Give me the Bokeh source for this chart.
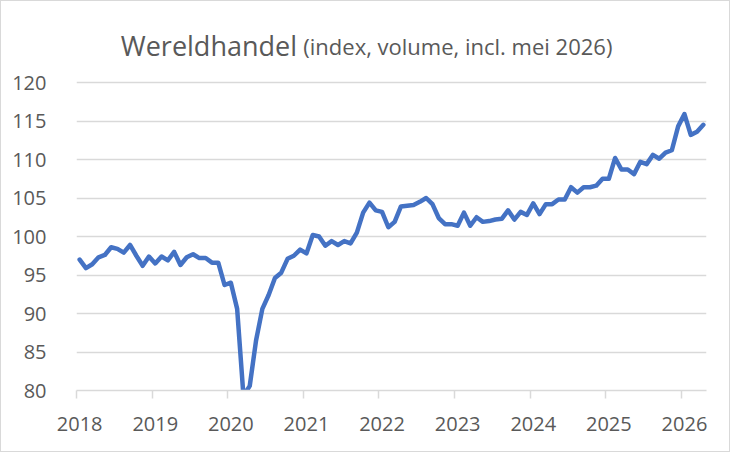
from bokeh.plotting import figure
from bokeh.models import Range1d, FixedTicker
from bokeh.layouts import column
from bokeh.core.properties import value
from bokeh.embed import file_html
from bokeh.resources import INLINE

# Monthly world trade index (volume), Jan 2018 .. Apr 2026 as plotted
values = [
    97.0, 95.9, 96.4, 97.3, 97.6, 98.6, 98.4, 97.9, 98.9, 97.5, 96.2, 97.4,   # 2018
    96.5, 97.4, 96.9, 98.0, 96.3, 97.3, 97.7, 97.2, 97.2, 96.6, 96.6, 93.7,   # 2019
    94.0, 90.6, 79.3, 80.6, 86.5, 90.6, 92.4, 94.6, 95.3, 97.1, 97.5, 98.3,   # 2020
    97.8, 100.2, 100.0, 98.8, 99.4, 98.9, 99.4, 99.1, 100.5, 103.1, 104.4, 103.4,  # 2021
    103.2, 101.2, 101.9, 103.9, 104.0, 104.1, 104.5, 105.0, 104.2, 102.4, 101.6, 101.6,  # 2022
    101.4, 103.1, 101.4, 102.5, 101.9, 102.0, 102.2, 102.3, 103.4, 102.2, 103.2, 102.8,  # 2023
    104.3, 102.9, 104.2, 104.2, 104.8, 104.8, 106.4, 105.7, 106.4, 106.4, 106.6, 107.5,  # 2024
    107.5, 110.2, 108.7, 108.7, 108.1, 109.7, 109.4, 110.6, 110.1, 110.9, 111.2, 114.3,  # 2025
    115.9, 113.2, 113.6, 114.5,                                                      # 2026
]
year_labels = ["2018", "2019", "2020", "2021", "2022", "2023", "2024", "2025", "2026"]
y_ticks = [80, 85, 90, 95, 100, 105, 110, 115, 120]
title_main = "Wereldhandel"
title_sub = "(index, volume, incl. mei 2026)"

months = list(range(len(values)))
label_pos = [12 * k for k in range(len(year_labels))]
boundary_pos = [12 * k - 0.5 for k in range(len(year_labels))]

GREY_TEXT = "#595959"
GRID = "#d9d9d9"
FONT = "Open Sans"

# frame runs from the very top of the chart down to the x axis; the headroom
# above 120 holds the title (no ticks / gridlines there)
PX_PER_UNIT = 7.7
FRAME_H = 389
y_top = y_ticks[0] + FRAME_H / PX_PER_UNIT

p = figure(width=728, height=450, output_backend="svg", toolbar_location=None,
           x_range=Range1d(-0.5, len(values) - 0.5), y_range=Range1d(y_ticks[0], y_top),
           min_border_left=75, min_border_right=23, min_border_top=0, min_border_bottom=61)
p.outline_line_color = None
p.background_fill_color = "white"
p.border_fill_color = "white"

p.line(months, values, line_color="#4472C4", line_width=4.5, line_join="round", line_cap="round")

# title (two sizes), baseline ~37 px above the 120 gridline
title_y = y_ticks[-1] + 37 / PX_PER_UNIT
p.text(x=[34.5], y=[title_y], text=[title_main], text_font=value(FONT),
       text_font_size="27px", text_color=GREY_TEXT, text_align="right",
       text_baseline="alphabetic")
p.text(x=[35.5], y=[title_y], text=[title_sub], text_font=value(FONT),
       text_font_size="22px", text_color=GREY_TEXT, text_align="left",
       text_baseline="alphabetic")

p.xgrid.visible = False
p.ygrid.grid_line_color = GRID
p.ygrid.grid_line_width = 1.5

p.yaxis.ticker = FixedTicker(ticks=y_ticks)
p.yaxis.axis_line_color = None
p.yaxis.major_tick_line_color = None
p.yaxis.minor_tick_line_color = None
p.yaxis.major_label_standoff = 24
p.yaxis.major_label_text_font = FONT
p.yaxis.major_label_text_font_size = "20px"
p.yaxis.major_label_text_color = GREY_TEXT

p.xaxis.ticker = FixedTicker(ticks=label_pos, minor_ticks=boundary_pos)
p.xaxis.major_label_overrides = {pos: lab for pos, lab in zip(label_pos, year_labels)}
p.xaxis.axis_line_color = GRID
p.xaxis.axis_line_width = 1.5
p.xaxis.major_tick_line_color = None
p.xaxis.major_tick_out = 0
p.xaxis.major_tick_in = 0
p.xaxis.minor_tick_line_color = GRID
p.xaxis.minor_tick_line_width = 1.5
p.xaxis.minor_tick_out = 8
p.xaxis.minor_tick_in = 0
p.xaxis.major_label_standoff = 18
p.xaxis.major_label_text_font = FONT
p.xaxis.major_label_text_font_size = "20px"
p.xaxis.major_label_text_color = GREY_TEXT

layout = column(p, spacing=0,
                styles={"border": "1px solid #d9d9d9", "box-sizing": "border-box",
                        "width": "730px", "height": "452px"})

open("out.html", "w").write(file_html(layout, INLINE))
